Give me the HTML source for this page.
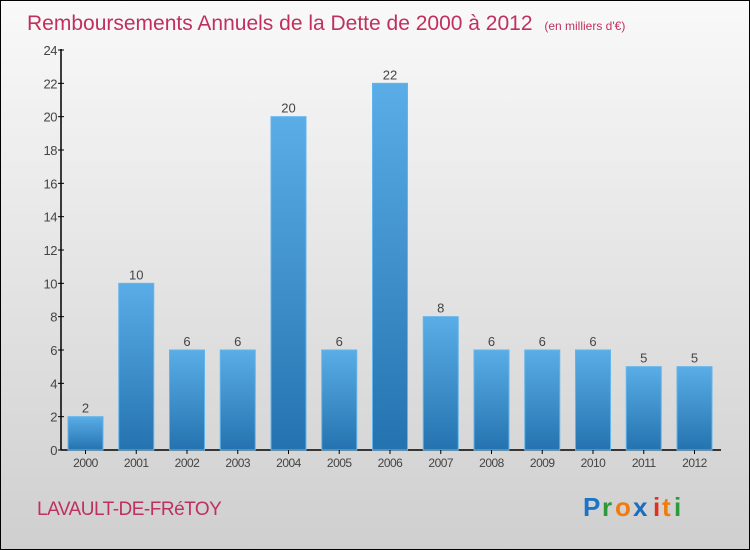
<!DOCTYPE html>
<html><head><meta charset="utf-8"><style>
body{margin:0;}
#c{position:relative;width:748px;height:548px;border:1px solid #000;background:linear-gradient(#f9f9f9,#cfcfcf);font-family:"Liberation Sans",sans-serif;overflow:hidden;}
</style></head><body>
<div id="c">
<svg id="s" width="748" height="548" style="position:absolute;left:0;top:0">
<text x="26" y="29" font-size="21" fill="#c0305e">Remboursements Annuels de la Dette de 2000 à 2012 <tspan font-size="12" dx="6">(en milliers d'€)</tspan></text>
<text x="36" y="514" font-size="19" fill="#c0305e" letter-spacing="-0.5">LAVAULT-DE-FRéTOY</text>
<g font-size="26" font-weight="bold">
<text x="582" y="515" fill="#1a75c8">P</text><text x="601" y="515" fill="#2a9a3a">r</text><text x="614" y="515" fill="#f07c10">o</text><text x="632" y="515" fill="#1a6cc0">x</text><text x="652" y="515" fill="#e03020">i</text><text x="661" y="515" fill="#f07c10">t</text><text x="673" y="515" fill="#2a9a3a">i</text>
</g>
<defs><linearGradient id="g" x1="0" y1="0" x2="0" y2="1"><stop offset="0" stop-color="#5aade6"/><stop offset="1" stop-color="#2473b0"/></linearGradient></defs>
<g id="plot"></g>
</svg>
</div>
<script>
const categories=["2000","2001","2002","2003","2004","2005","2006","2007","2008","2009","2010","2011","2012"];
const values=[2,10,6,6,20,6,22,8,6,6,6,5,5];
const yTicks=[0,2,4,6,8,10,12,14,16,18,20,22,24];
const NS="http://www.w3.org/2000/svg";
const g=document.getElementById('plot');
const y0=449,y1=49,ymax=24;
const yS=v=>y0-(y0-y1)*v/ymax;
const xS=i=>67+i*50.75;
const bw=35;
function mk(t,a){const e=document.createElementNS(NS,t);for(const k in a)e.setAttribute(k,a[k]);g.appendChild(e);return e;}
let ax=mk('line',{x1:60,y1:y1-1,x2:60,y2:y0,stroke:'#000','stroke-width':1.5});


let bx=mk('line',{x1:60,y1:y0,x2:720,y2:y0,stroke:'#000','stroke-width':1.5});


yTicks.forEach(v=>{
 const y=yS(v);
 const t=mk('line',{x1:57,y1:y,x2:63,y2:y,stroke:'#000'});
 
 
 const l=mk('text',{x:56,y:y+5,'font-size':13,'text-anchor':'end',fill:'#444','letter-spacing':'-0.5'});
 l.textContent=v;
 
 
});
categories.forEach((c,i)=>{
 const x=xS(i),v=values[i],y=yS(v);
 const r=mk('rect',{x:x,y:y,width:bw,height:y0-y,fill:'url(#g)',stroke:'#62b4ec','stroke-width':1});
 
 
 const t=mk('line',{x1:x+bw/2,y1:y0,x2:x+bw/2,y2:y0+4,stroke:'#000'});
 
 
 const l=mk('text',{x:x+bw/2,y:y0+17,'font-size':12,'text-anchor':'middle',fill:'#444','letter-spacing':'-0.5'});
 l.textContent=c;
 
 
 const vl=mk('text',{x:x+bw/2,y:y-4,'font-size':13,'text-anchor':'middle',fill:'#444'});
 vl.textContent=v;
 
 
});
</script>
</body></html>
